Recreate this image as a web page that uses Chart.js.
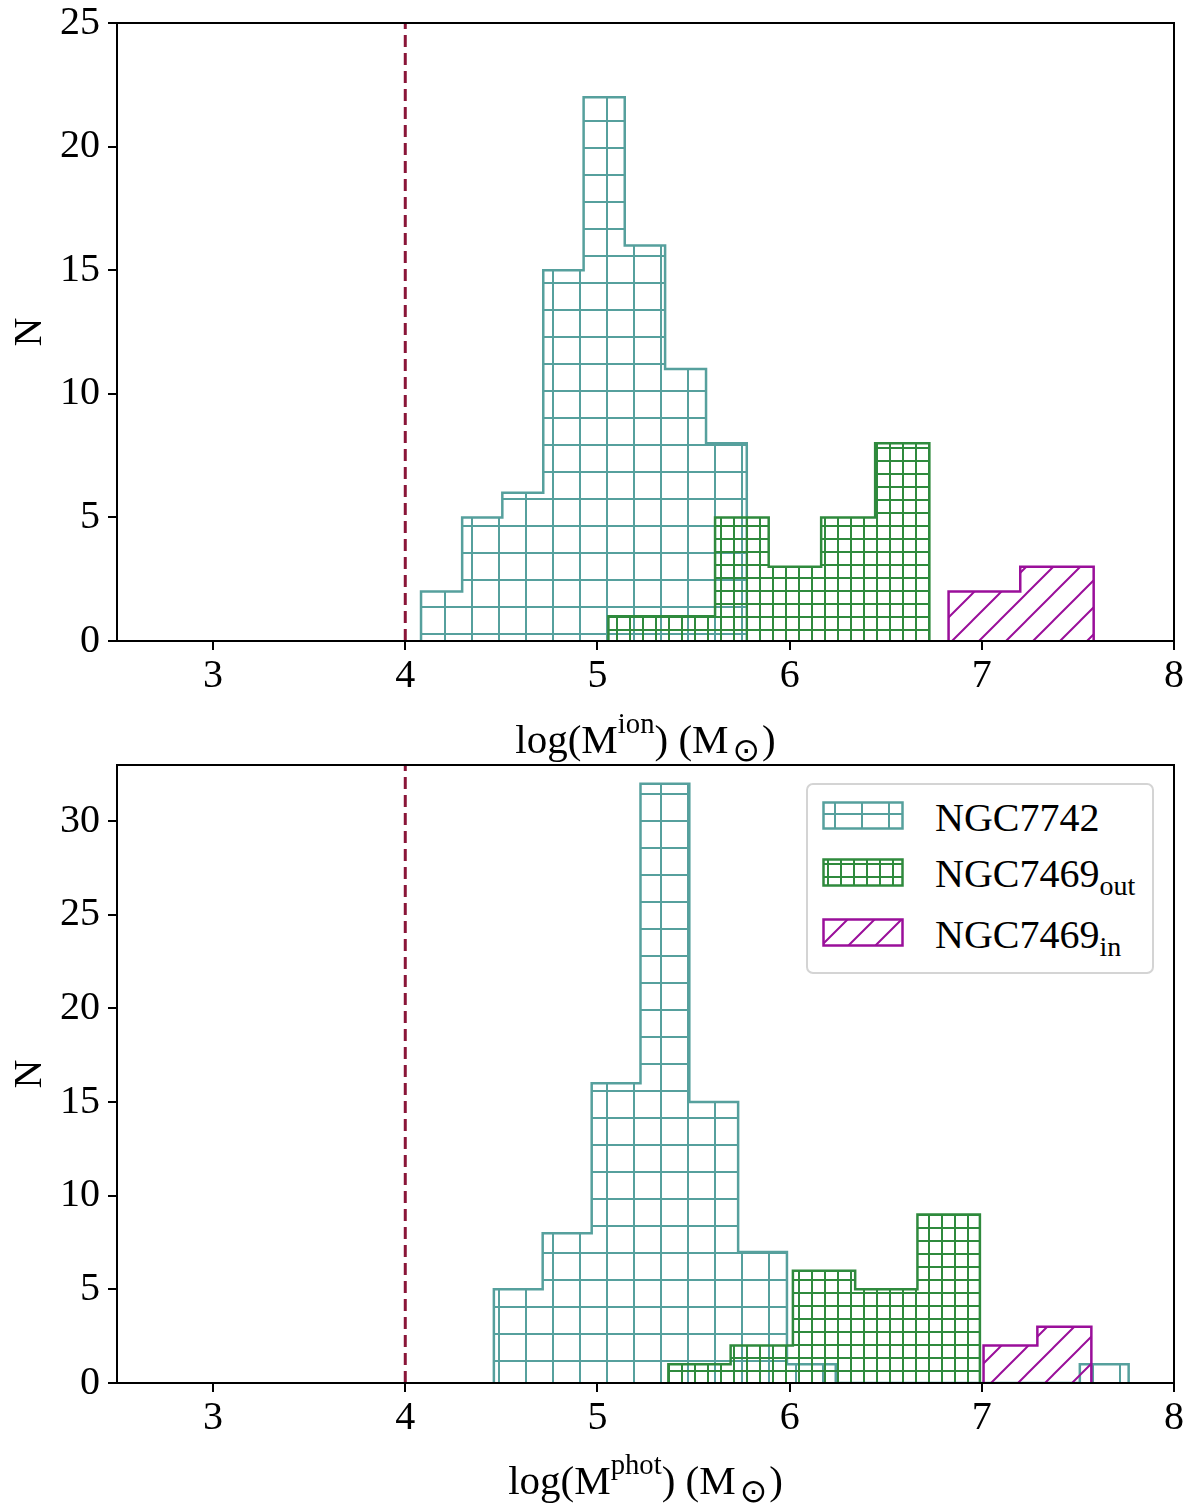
<!DOCTYPE html>
<html>
<head>
<meta charset="utf-8">
<script src="https://cdn.jsdelivr.net/npm/chart.js@4.4.1/dist/chart.umd.min.js"></script>
<style>
  body { margin: 0; background: #fff; font-family: "Liberation Serif", "DejaVu Serif", serif; }
  #page { position: relative; width: 1200px; height: 1508px; overflow: hidden; }
  .panel { position: absolute; left: 0; width: 1200px; height: 754px; }
  .xlabel { position: absolute; left: 0; width: 1291px; text-align: center; font-size: 41px; line-height: 41px; color: #000; white-space: nowrap; }
  .sup, .sub { position: relative; font-size: 0.7em; }
  .sup { top: -0.7em; }
  .sub { top: 0.3em; }
  .odot { font-family: "DejaVu Sans", sans-serif; margin-left: 4px; margin-right: 2px; font-size: 0.8em; top: 0.25em; }
  #legend { position: absolute; left: 806px; top: 783px; width: 344px; height: 187px; border: 2px solid #d4d4d4; border-radius: 7px; background: #fff; }
  #legend canvas { position: absolute; left: 14px; }
  #legend .txt { position: absolute; left: 127px; font-size: 40px; line-height: 40px; white-space: nowrap; }
  #legend .txt .sub { top: 0.28em; }
</style>
</head>
<body>
<div id="page">
  <div class="panel" style="top:0"><canvas id="ionChart" width="1200" height="754"></canvas></div>
  <div class="panel" style="top:754px"><canvas id="photChart" width="1200" height="754"></canvas></div>
  <div class="xlabel" style="top:719px">log(M<span class="sup">ion</span>) (M<span class="sub odot">⊙</span>)</div>
  <div class="xlabel" style="top:1460px">log(M<span class="sup">phot</span>) (M<span class="sub odot">⊙</span>)</div>
  <div id="legend">
    <canvas id="sw0" width="82" height="29" style="top:16px"></canvas>
    <div class="txt" style="top:13px">NGC7742</div>
    <canvas id="sw1" width="82" height="29" style="top:73px"></canvas>
    <div class="txt" style="top:69px">NGC7469<span class="sub">out</span></div>
    <canvas id="sw2" width="82" height="29" style="top:133px"></canvas>
    <div class="txt" style="top:130px">NGC7469<span class="sub">in</span></div>
  </div>
</div>
<script>
// axis ticks
const xTickValues = [3, 4, 5, 6, 7, 8];
const ionYTicks = [0, 5, 10, 15, 20, 25];
const photYTicks = [0, 5, 10, 15, 20, 25, 30];
const massLimit = 4;

// top panel: ionised gas mass, bin edges and counts
const ionEdges7742 = [4.082, 4.296, 4.505, 4.718, 4.928, 5.142, 5.352, 5.565, 5.777];
const ionCounts7742 = [2, 5, 6, 15, 22, 16, 11, 8];
const ionEdgesOut = [5.057, 5.335, 5.612, 5.891, 6.164, 6.445, 6.727];
const ionCountsOut = [1, 1, 5, 3, 5, 8];
const ionEdgesIn = [6.827, 7.2, 7.582];
const ionCountsIn = [2, 3];

// bottom panel: photometric mass
const photEdges7742 = [4.461, 4.715, 4.97, 5.224, 5.478, 5.732, 5.986, 6.24, 6.494, 6.748, 7.002, 7.256, 7.51, 7.764];
const photCounts7742 = [5, 8, 16, 32, 15, 7, 1, 0, 0, 0, 0, 0, 1];
const photEdgesOut = [5.369, 5.693, 6.017, 6.341, 6.665, 6.99];
const photCountsOut = [1, 2, 6, 5, 9];
const photEdgesIn = [7.009, 7.289, 7.57];
const photCountsIn = [2, 3];

const teal = '#56a09d';
const green = '#2f8a3d';
const purple = '#9a0f9a';
const limitColor = '#8a1538';

function gridPattern(color, size) {
  const c = document.createElement('canvas');
  c.width = size; c.height = size;
  const g = c.getContext('2d');
  const m = Math.floor(size / 2);
  g.strokeStyle = color;
  g.lineWidth = 2;
  g.beginPath();
  g.moveTo(m, 0); g.lineTo(m, size);
  g.moveTo(0, m); g.lineTo(size, m);
  g.stroke();
  return g.createPattern(c, 'repeat');
}

function diagPattern(color, size) {
  const c = document.createElement('canvas');
  c.width = size; c.height = size;
  const g = c.getContext('2d');
  g.strokeStyle = color;
  g.lineWidth = 2;
  g.beginPath();
  g.moveTo(0, size); g.lineTo(size, 0);
  g.moveTo(-2, 2); g.lineTo(2, -2);
  g.moveTo(size - 2, size + 2); g.lineTo(size + 2, size - 2);
  g.stroke();
  return g.createPattern(c, 'repeat');
}

const hatch7742 = gridPattern(teal, 27);
const hatchOut = gridPattern(green, 13);
const hatchIn = diagPattern(purple, 27);

// step outline for a histogram: left edges carry the counts
function histPoints(edges, counts) {
  const pts = [{ x: edges[0], y: 0 }];
  counts.forEach((c, i) => pts.push({ x: edges[i], y: c }));
  pts.push({ x: edges[edges.length - 1], y: 0 });
  return pts;
}

function histDataset(label, edges, counts, color, pattern, order) {
  return {
    label: label,
    data: histPoints(edges, counts),
    stepped: true,
    borderColor: color,
    backgroundColor: pattern,
    borderWidth: 2.5,
    pointRadius: 0,
    fill: 'origin',
    order: order
  };
}

// black box round the plot area
const framePlugin = {
  id: 'frame',
  afterDraw(chart) {
    const a = chart.chartArea;
    const ctx = chart.ctx;
    ctx.save();
    ctx.strokeStyle = '#000';
    ctx.lineWidth = 2;
    ctx.strokeRect(a.left, a.top, a.right - a.left, a.bottom - a.top);
    ctx.restore();
  }
};

Chart.defaults.font.family = '"Liberation Serif", "DejaVu Serif", serif';
Chart.defaults.color = '#000';

function makePanel(id, datasets, yMax, yTicks, padTop, xHeight) {
  const ctx = document.getElementById(id).getContext('2d');
  datasets.push({
    label: 'limit',
    data: [{ x: massLimit, y: 0 }, { x: massLimit, y: yMax }],
    borderColor: limitColor,
    borderWidth: 3,
    borderDash: [12, 6],
    pointRadius: 0,
    fill: false,
    order: 0
  });
  return new Chart(ctx, {
    type: 'line',
    data: { datasets: datasets },
    plugins: [framePlugin],
    options: {
      responsive: false,
      animation: false,
      devicePixelRatio: 1,
      events: [],
      layout: { padding: { top: padTop, right: 26, left: 0, bottom: 0 } },
      plugins: { legend: { display: false }, tooltip: { enabled: false } },
      scales: {
        x: {
          type: 'linear',
          min: 2.5,
          max: 8,
          afterBuildTicks: s => { s.ticks = xTickValues.map(v => ({ value: v })); },
          afterFit: s => { s.height = xHeight; s.paddingLeft = 0; s.paddingRight = 0; },
          grid: { drawOnChartArea: false, tickLength: 9, color: '#000', lineWidth: 2 },
          border: { display: true, color: '#000', width: 2 },
          ticks: { font: { size: 40, lineHeight: 1 }, padding: 6, maxRotation: 0 }
        },
        y: {
          min: 0,
          max: yMax,
          afterBuildTicks: s => { s.ticks = yTicks.map(v => ({ value: v })); },
          afterFit: s => { s.width = 117; s.paddingTop = 0; s.paddingBottom = 0; },
          grid: { drawOnChartArea: false, tickLength: 9, color: '#000', lineWidth: 2 },
          border: { display: true, color: '#000', width: 2 },
          ticks: { font: { size: 40, lineHeight: 1 }, padding: 8 },
          title: { display: true, text: 'N', font: { size: 40 }, padding: { top: 6, bottom: 0 } }
        }
      }
    }
  });
}

makePanel('ionChart', [
  histDataset('NGC7742', ionEdges7742, ionCounts7742, teal, hatch7742, 3),
  histDataset('NGC7469out', ionEdgesOut, ionCountsOut, green, hatchOut, 2),
  histDataset('NGC7469in', ionEdgesIn, ionCountsIn, purple, hatchIn, 1)
], 25, ionYTicks, 23, 113);

makePanel('photChart', [
  histDataset('NGC7742', photEdges7742, photCounts7742, teal, hatch7742, 3),
  histDataset('NGC7469out', photEdgesOut, photCountsOut, green, hatchOut, 2),
  histDataset('NGC7469in', photEdgesIn, photCountsIn, purple, hatchIn, 1)
], 33, photYTicks, 11, 125);

// legend swatches
[[hatch7742, teal], [hatchOut, green], [hatchIn, purple]].forEach((p, i) => {
  const g = document.getElementById('sw' + i).getContext('2d');
  g.fillStyle = p[0];
  g.fillRect(1, 1, 80, 27);
  g.strokeStyle = p[1];
  g.lineWidth = 2.5;
  g.strokeRect(1.5, 1.5, 79, 26);
});
</script>
</body>
</html>
